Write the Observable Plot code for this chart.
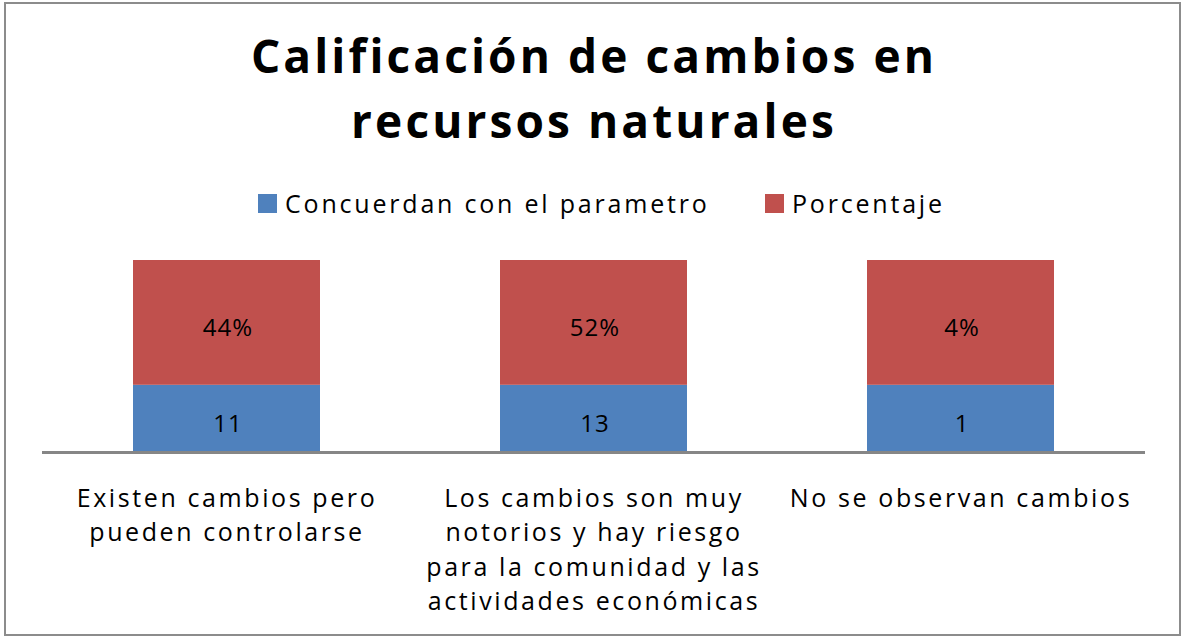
<!DOCTYPE html>
<html>
<head>
<meta charset="utf-8">
<script src="https://cdn.jsdelivr.net/npm/d3@7"></script>
<script src="https://cdn.jsdelivr.net/npm/@observablehq/plot@0.6"></script>
<style>
  html, body { margin: 0; padding: 0; background: #fff; }
  #frame { position: absolute; left: 4px; top: 2px; width: 1177px; height: 634px; border: 2px solid #8c8c8c; box-sizing: border-box; }
  #page { position: absolute; left: 0; top: 0; width: 1184px; height: 637px; font-family: "Open Sans", Lato, sans-serif; color: #000; }
  .title { position: absolute; left: 0; width: 1188px; text-align: center; font-weight: 700; font-size: 46px; line-height: 1; letter-spacing: 3.1px; }
  .legend { position: absolute; left: 0; top: 186px; width: 1184px; height: 34px; font-size: 25px; letter-spacing: 2.8px; }
  .legend .item { position: absolute; top: 0; display: flex; align-items: center; height: 34px; }
  .legend .sw { width: 19px; height: 19px; margin-right: 8px; }
  #chart { position: absolute; left: 0; top: 230px; }
  #chart svg text { font-family: "Open Sans", Lato, sans-serif; }
  #chart svg g[aria-label="x-axis tick label"] text { letter-spacing: 2.6px; }
  #chart svg g[aria-label="text"] text { letter-spacing: 1px; }
</style>
</head>
<body>
<div id="page">
  <div id="frame"></div>
  <div class="title" id="t1" style="top:32px"></div>
  <div class="title" id="t2" style="top:97px"></div>
  <div class="legend" id="legend"></div>
  <div id="chart"></div>
</div>
<script>
// ---- data ----
const titleLines = ["Calificación de cambios en", "recursos naturales"];
const categories = [
  "Existen cambios pero\npueden controlarse",
  "Los cambios son muy\nnotorios y hay riesgo\npara la comunidad y las\nactividades económicas",
  "No se observan cambios"
];
const seriesNames = ["Concuerdan con el parametro", "Porcentaje"];
const seriesColors = ["#4F81BD", "#C0504D"];
const concuerdan = [11, 13, 1];
const porcentaje = [0.44, 0.52, 0.04];
// share of each bar occupied by each segment, as drawn in the picture
const concuerdanShare = [0.35, 0.35, 0.35];
const porcentajeShare = [0.65, 0.65, 0.65];

// ---- build table ----
const rows = [];
categories.forEach((c, i) => {
  rows.push({cat: c, serie: seriesNames[0], share: concuerdanShare[i], label: String(concuerdan[i])});
  rows.push({cat: c, serie: seriesNames[1], share: porcentajeShare[i], label: d3.format(".0%")(porcentaje[i])});
});

document.getElementById("t1").textContent = titleLines[0];
document.getElementById("t2").textContent = titleLines[1];

const legendPos = [258, 765];
const legend = document.getElementById("legend");
seriesNames.forEach((s, i) => {
  const it = document.createElement("div");
  it.className = "item";
  it.style.left = legendPos[i] + "px";
  it.innerHTML = `<div class="sw" style="background:${seriesColors[i]}"></div><span>${s}</span>`;
  legend.appendChild(it);
});

const stackOpts = {x: "cat", y: "share", z: "serie", order: seriesNames};
const plot = Plot.plot({
  width: 1184,
  height: 407,
  marginTop: 30,
  marginBottom: 185,
  marginLeft: 42,
  marginRight: 39,
  x: {domain: categories, paddingInner: 0.49, paddingOuter: 0.245, label: null},
  y: {domain: [0, 1], axis: null},
  color: {domain: seriesNames, range: seriesColors},
  marks: [
    Plot.barY(rows, Plot.stackY({...stackOpts, fill: "serie"})),
    Plot.text(rows, Plot.stackY({...stackOpts, text: "label", fontSize: 24, dy: 5, dx: 1, fill: "#000"})),
    Plot.ruleY([0], {stroke: "#868686", strokeWidth: 3}),
    Plot.axisX({tickSize: 0, tickPadding: 30, fontSize: 25, lineHeight: 1.38, fill: "#000", label: null})
  ]
});
document.getElementById("chart").appendChild(plot);
</script>
</body>
</html>
